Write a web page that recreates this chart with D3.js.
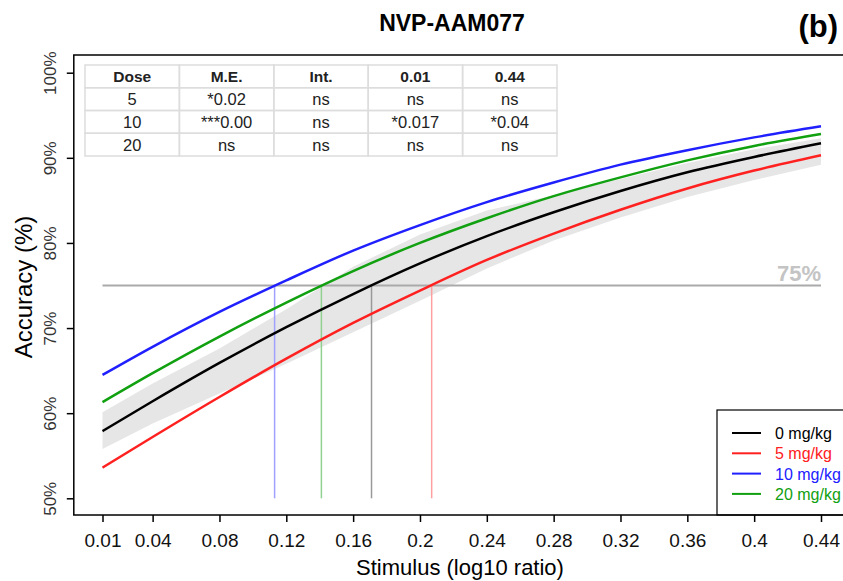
<!DOCTYPE html>
<html>
<head>
<meta charset="utf-8">
<script src="https://cdn.jsdelivr.net/npm/d3@7"></script>
<style>
  body { margin: 0; background: #fff; }
  svg { display: block; font-family: "Liberation Sans", Arial, sans-serif; }
</style>
</head>
<body>
<svg width="843" height="581"></svg>
<script>
// stimulus levels (x) and accuracy (%)
const stimulus = [0.01, 0.04, 0.08, 0.12, 0.16, 0.2, 0.24, 0.28, 0.32, 0.36, 0.4, 0.44]
const xTickLabels = ["0.01", "0.04", "0.08", "0.12", "0.16", "0.2", "0.24", "0.28", "0.32", "0.36", "0.4", "0.44"]
const yTicks = [50, 60, 70, 80, 90, 100]

const acc0 = [57.9, 61.4, 65.9, 70.1, 74.0, 77.6, 80.8, 83.6, 86.1, 88.3, 90.1, 91.7]
const acc5 = [53.6, 57.2, 61.9, 66.4, 70.6, 74.4, 78.0, 81.1, 83.9, 86.4, 88.5, 90.3]
const acc10 = [64.5, 67.8, 71.9, 75.6, 79.1, 82.1, 84.8, 87.1, 89.2, 90.9, 92.4, 93.7]
const acc20 = [61.3, 64.7, 69.0, 73.0, 76.7, 80.0, 82.9, 85.5, 87.7, 89.7, 91.4, 92.8]

// grey band around the 0 mg/kg curve
const bandLow = [55.8, 58.8, 62.3, 65.8, 69.5, 73.2, 77.0, 80.3, 83.0, 85.4, 87.4, 89.2]
const bandHigh = [60.1, 63.5, 67.6, 72.2, 77.2, 81.0, 83.8, 85.6, 87.5, 89.4, 91.0, 92.3]

// stimulus where each curve reaches 75%
const doses = ["0 mg/kg", "5 mg/kg", "10 mg/kg", "20 mg/kg"]
const thresholds = [0.171, 0.207, 0.113, 0.141]
const colors = ["#000000", "#ff2020", "#2020ff", "#10a010"]
const dropColors = ["#999999", "#ffa0a0", "#a0a0ff", "#90d090"]

const tableHeader = ["Dose", "M.E.", "Int.", "0.01", "0.44"]
const tableRows = [
    ["5", "*0.02", "ns", "ns", "ns"],
    ["10", "***0.00", "ns", "*0.017", "*0.04"],
    ["20", "ns", "ns", "ns", "ns"]
]

const
    LEFT = 73.8,
    RIGHT = 850,
    TOP = 55,
    BOTTOM = 515

let svg = d3.select('svg')

let x = d3.scaleLinear().domain([0.01, 0.44]).range([102.5, 821])
let y = d3.scaleLinear().domain([50, 100]).range([498.3, 72.7])

// BAND
let bandData = stimulus.map((s, i) => ({ s: s, lo: bandLow[i], hi: bandHigh[i] }))
svg.append("path")
    .datum(bandData)
    .attr("d", d3.area().x(d => x(d.s)).y0(d => y(d.lo)).y1(d => y(d.hi)))
    .attr("fill", "#e6e6e6")

// 75% LINE
svg.append("line")
    .attr("x1", x(0.01)).attr("x2", x(0.44))
    .attr("y1", y(75)).attr("y2", y(75))
    .attr("stroke", "#aaaaaa")
    .attr("stroke-width", 2)

svg.append("text")
    .text("75%")
    .attr("x", x(0.44))
    .attr("y", y(75) - 5)
    .attr("text-anchor", "end")
    .attr("font-size", 22)
    .attr("font-weight", "bold")
    .attr("fill", "#c4c4c4")

// DROP LINES
thresholds.forEach((t, i) => {
    svg.append("line")
        .attr("x1", x(t)).attr("x2", x(t))
        .attr("y1", y(75)).attr("y2", y(50))
        .attr("stroke", dropColors[i])
        .attr("stroke-width", 1.5)
})

// CURVES
let line = d3.line().x(d => x(d[0])).y(d => y(d[1])).curve(d3.curveMonotoneX)
let series = [acc0, acc5, acc10, acc20]
series.forEach((vals, i) => {
    svg.append("path")
        .datum(stimulus.map((s, j) => [s, vals[j]]))
        .attr("d", line)
        .attr("fill", "none")
        .attr("stroke", colors[i])
        .attr("stroke-width", 2.5)
})

// TABLE
let tableG = svg.append("g")
let colX = d3.scaleBand().domain(d3.range(5)).range([85, 557])
let rowY = d3.scaleBand().domain(d3.range(4)).range([65, 156])
let allRows = [tableHeader].concat(tableRows)
tableG.append("rect")
    .attr("x", 85).attr("y", 65)
    .attr("width", 472).attr("height", 91)
    .attr("fill", "#fff")
allRows.forEach((row, r) => {
    row.forEach((cell, c) => {
        tableG.append("rect")
            .attr("x", colX(c)).attr("y", rowY(r))
            .attr("width", colX.bandwidth()).attr("height", rowY.bandwidth())
            .attr("fill", "none")
            .attr("stroke", "#dddddd")
            .attr("stroke-width", 1.5)
        tableG.append("text")
            .text(cell)
            .attr("x", colX(c) + colX.bandwidth() / 2)
            .attr("y", rowY(r) + rowY.bandwidth() / 2 + 6)
            .attr("text-anchor", "middle")
            .attr("font-size", r === 0 ? 15.5 : 16.5)
            .attr("font-weight", r === 0 ? "bold" : "normal")
            .attr("fill", "#222")
    })
})

// LEGEND
let legend = svg.append("g")
legend.append("rect")
    .attr("x", 717).attr("y", 410)
    .attr("width", 140).attr("height", BOTTOM - 410)
    .attr("fill", "#fff")
    .attr("stroke", "#000")
    .attr("stroke-width", 1.2)
doses.forEach((d, i) => {
    let ly = 433 + i * 20.3
    legend.append("line")
        .attr("x1", 732).attr("x2", 761)
        .attr("y1", ly).attr("y2", ly)
        .attr("stroke", colors[i])
        .attr("stroke-width", 2)
    legend.append("text")
        .text(d)
        .attr("x", 775)
        .attr("y", ly + 6)
        .attr("font-size", 16)
        .attr("fill", colors[i])
})

// FRAME
svg.append("rect")
    .attr("x", LEFT).attr("y", TOP)
    .attr("width", RIGHT - LEFT).attr("height", BOTTOM - TOP)
    .attr("fill", "none")
    .attr("stroke", "#000")
    .attr("stroke-width", 1.5)

// AXES
let xAxis = svg.append("g")
    .attr("transform", `translate(0,${BOTTOM})`)
    .call(d3.axisBottom(x).tickValues(stimulus).tickFormat((d, i) => xTickLabels[i]).tickSize(7).tickPadding(12))
xAxis.select(".domain").remove()
xAxis.selectAll("line").attr("stroke-width", 1.5)
xAxis.selectAll("text")
    .attr("font-family", "'Liberation Sans Narrow', 'Arial Narrow', sans-serif")
    .attr("font-size", 19)
    .attr("fill", "#111")

let yAxis = svg.append("g")
    .attr("transform", `translate(${LEFT},0)`)
    .call(d3.axisLeft(y).tickValues(yTicks).tickFormat(d => d + "%").tickSize(7))
yAxis.select(".domain").remove()
yAxis.selectAll("line").attr("stroke-width", 1.5)
yAxis.selectAll(".tick text")
    .attr("transform", "translate(-18,0) rotate(-90)")
    .attr("x", 0).attr("y", 0).attr("dy", 0)
    .attr("text-anchor", "middle")
    .attr("font-size", 17)
    .attr("fill", "#333")

// TITLES
svg.append("text")
    .text("NVP-AAM077")
    .attr("x", 452).attr("y", 31)
    .attr("text-anchor", "middle")
    .attr("font-size", 23)
    .attr("font-weight", "bold")

svg.append("text")
    .text("(b)")
    .attr("x", 838).attr("y", 37)
    .attr("text-anchor", "end")
    .attr("font-size", 31)
    .attr("font-weight", "bold")

svg.append("text")
    .text("Stimulus (log10 ratio)")
    .attr("x", 460).attr("y", 575)
    .attr("text-anchor", "middle")
    .attr("font-size", 22)

svg.append("text")
    .text("Accuracy (%)")
    .attr("transform", "translate(32,287) rotate(-90)")
    .attr("text-anchor", "middle")
    .attr("font-size", 24)
</script>
</body>
</html>
